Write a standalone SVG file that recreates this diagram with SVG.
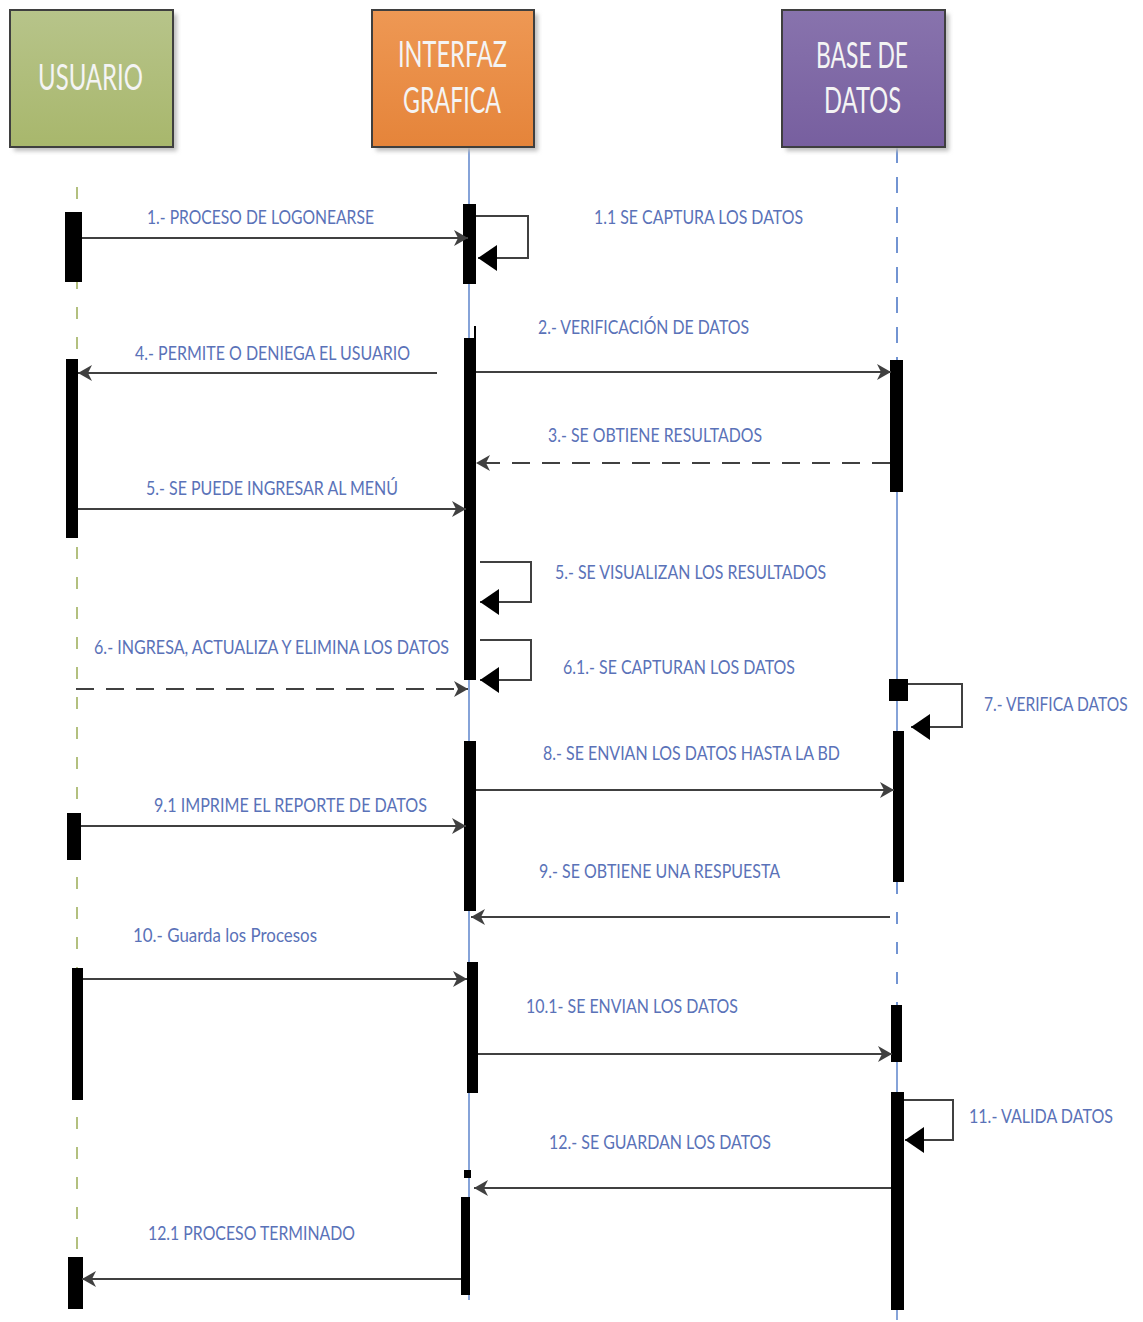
<svg xmlns="http://www.w3.org/2000/svg" width="1143" height="1322" viewBox="0 0 1143 1322">
<style>
.hdr{font-family:Lato,"Open Sans",sans-serif;font-size:36px;fill:#f4f4f4;}
.lbl{font-family:Lato,"Open Sans",sans-serif;font-size:19px;fill:#5a72b8;}
.msg{stroke:#404040;stroke-width:2;fill:none;}
.dash{stroke-dasharray:18 12;}
.self{stroke:#404040;stroke-width:2;fill:none;}
.act{fill:#000;}
.box{stroke:#3f3f3f;stroke-width:2;}
</style>
<defs>
<linearGradient id="gG" x1="0" y1="0" x2="0" y2="1"><stop offset="0" stop-color="#b7c48a"/><stop offset="1" stop-color="#a8b76c"/></linearGradient>
<linearGradient id="gO" x1="0" y1="0" x2="0" y2="1"><stop offset="0" stop-color="#ee9854"/><stop offset="1" stop-color="#e5843a"/></linearGradient>
<linearGradient id="gP" x1="0" y1="0" x2="0" y2="1"><stop offset="0" stop-color="#8873ad"/><stop offset="1" stop-color="#775f9f"/></linearGradient>
<filter id="sh" x="-10%" y="-10%" width="130%" height="130%"><feGaussianBlur stdDeviation="2"/></filter>
<marker id="ah" markerUnits="userSpaceOnUse" markerWidth="15" markerHeight="18" refX="14" refY="9" orient="auto"><path d="M0,1 L14,9 L0,17 L4,9 Z" fill="#404040"/></marker>
<marker id="sa" markerUnits="userSpaceOnUse" markerWidth="20" markerHeight="28" refX="19" refY="13" orient="auto"><path d="M0,0 L19,13 L0,26 Z" fill="#000"/></marker>
</defs>
<rect width="1143" height="1322" fill="#fff"/>

<g id="lifelines">
<line x1="77" y1="187" x2="77" y2="1312" stroke="#b3c07f" stroke-width="2" stroke-dasharray="12 18"/>
<line x1="469" y1="147" x2="469" y2="1300" stroke="#4472c4" stroke-width="1.3"/>
<line x1="897" y1="147" x2="897" y2="360" stroke="#4472c4" stroke-width="1.5" stroke-dasharray="16 14"/>
<line x1="897" y1="360" x2="897" y2="882" stroke="#4472c4" stroke-width="1.3"/>
<line x1="897" y1="882" x2="897" y2="1005" stroke="#4472c4" stroke-width="1.5" stroke-dasharray="12 18"/>
<line x1="897" y1="1005" x2="897" y2="1320" stroke="#4472c4" stroke-width="1.3"/>
</g>

<g id="usuario">
<rect x="14" y="14" width="163" height="137" fill="#bdbdbd" filter="url(#sh)"/>
<rect class="box" x="10" y="10" width="163" height="137" fill="url(#gG)"/>
<text class="hdr" x="38" y="90" textLength="105" lengthAdjust="spacingAndGlyphs">USUARIO</text>
</g>
<g id="interfaz">
<rect x="376" y="14" width="162" height="137" fill="#bdbdbd" filter="url(#sh)"/>
<rect class="box" x="372" y="10" width="162" height="137" fill="url(#gO)"/>
<text class="hdr" x="398" y="67" textLength="109" lengthAdjust="spacingAndGlyphs">INTERFAZ</text>
<text class="hdr" x="403" y="113" textLength="98" lengthAdjust="spacingAndGlyphs">GRAFICA</text>
</g>
<g id="basedatos">
<rect x="786" y="14" width="163" height="137" fill="#bdbdbd" filter="url(#sh)"/>
<rect class="box" x="782" y="10" width="163" height="137" fill="url(#gP)"/>
<text class="hdr" x="816" y="68" textLength="92" lengthAdjust="spacingAndGlyphs">BASE DE</text>
<text class="hdr" x="824" y="113" textLength="77" lengthAdjust="spacingAndGlyphs">DATOS</text>
</g>

<g id="activations">
<rect class="act" x="65" y="212" width="17" height="70"/>
<rect class="act" x="66" y="359" width="12" height="179"/>
<rect class="act" x="67" y="813" width="14" height="47"/>
<rect class="act" x="72" y="968" width="11" height="132"/>
<rect class="act" x="68" y="1257" width="15" height="52"/>
<rect class="act" x="463" y="204" width="13" height="80"/>
<rect class="act" x="474" y="326" width="2" height="14"/>
<rect class="act" x="464" y="338" width="12" height="342"/>
<rect class="act" x="464" y="741" width="12" height="170"/>
<rect class="act" x="467" y="962" width="11" height="131"/>
<rect class="act" x="464" y="1170" width="7" height="8"/>
<rect class="act" x="461" y="1197" width="9" height="98"/>
<rect class="act" x="890" y="360" width="13" height="132"/>
<rect class="act" x="889" y="679" width="19" height="22"/>
<rect class="act" x="893" y="731" width="11" height="151"/>
<rect class="act" x="891" y="1005" width="11" height="57"/>
<rect class="act" x="891" y="1092" width="13" height="218"/>
</g>

<g id="connectors">
<line class="msg" x1="82" y1="238" x2="468" y2="238" marker-end="url(#ah)"/>
<polyline class="self" points="476,216 528,216 528,258 478,258" marker-end="url(#sa)"/>
<line class="msg" x1="476" y1="372" x2="891" y2="372" marker-end="url(#ah)"/>
<line class="msg" x1="437" y1="373" x2="78" y2="373" marker-end="url(#ah)"/>
<line class="msg dash" x1="890" y1="463" x2="476" y2="463" marker-end="url(#ah)"/>
<line class="msg" x1="78" y1="509" x2="466" y2="509" marker-end="url(#ah)"/>
<polyline class="self" points="480,562 531,562 531,602 480,602" marker-end="url(#sa)"/>
<polyline class="self" points="480,640 531,640 531,680 480,680" marker-end="url(#sa)"/>
<line class="msg dash" x1="76" y1="689" x2="468" y2="689" marker-end="url(#ah)"/>
<polyline class="self" points="908,684 962,684 962,727 911,727" marker-end="url(#sa)"/>
<line class="msg" x1="476" y1="790" x2="894" y2="790" marker-end="url(#ah)"/>
<line class="msg" x1="81" y1="826" x2="466" y2="826" marker-end="url(#ah)"/>
<line class="msg" x1="890" y1="917" x2="471" y2="917" marker-end="url(#ah)"/>
<line class="msg" x1="83" y1="979" x2="467" y2="979" marker-end="url(#ah)"/>
<line class="msg" x1="478" y1="1054" x2="892" y2="1054" marker-end="url(#ah)"/>
<polyline class="self" points="904,1100 953,1100 953,1140 905,1140" marker-end="url(#sa)"/>
<line class="msg" x1="891" y1="1188" x2="474" y2="1188" marker-end="url(#ah)"/>
<line class="msg" x1="461" y1="1279" x2="82" y2="1279" marker-end="url(#ah)"/>
</g>

<g id="labels">
<text class="lbl" x="147" y="224" textLength="227" lengthAdjust="spacingAndGlyphs">1.- PROCESO DE LOGONEARSE</text>
<text class="lbl" x="594" y="224" textLength="209" lengthAdjust="spacingAndGlyphs">1.1 SE CAPTURA LOS DATOS</text>
<text class="lbl" x="538" y="334" textLength="211" lengthAdjust="spacingAndGlyphs">2.- VERIFICACIÓN DE DATOS</text>
<text class="lbl" x="135" y="360" textLength="275" lengthAdjust="spacingAndGlyphs">4.- PERMITE O DENIEGA EL USUARIO</text>
<text class="lbl" x="548" y="442" textLength="214" lengthAdjust="spacingAndGlyphs">3.- SE OBTIENE RESULTADOS</text>
<text class="lbl" x="146" y="495" textLength="252" lengthAdjust="spacingAndGlyphs">5.- SE PUEDE INGRESAR AL MENÚ</text>
<text class="lbl" x="555" y="579" textLength="271" lengthAdjust="spacingAndGlyphs">5.- SE VISUALIZAN LOS RESULTADOS</text>
<text class="lbl" x="94" y="654" textLength="355" lengthAdjust="spacingAndGlyphs">6.- INGRESA, ACTUALIZA Y ELIMINA LOS DATOS</text>
<text class="lbl" x="563" y="674" textLength="232" lengthAdjust="spacingAndGlyphs">6.1.- SE CAPTURAN LOS DATOS</text>
<text class="lbl" transform="translate(984,711) scale(0.85,1)" x="0" y="0" textLength="169" lengthAdjust="spacingAndGlyphs">7.- VERIFICA DATOS</text>
<text class="lbl" x="543" y="760" textLength="297" lengthAdjust="spacingAndGlyphs">8.- SE ENVIAN LOS DATOS HASTA LA BD</text>
<text class="lbl" x="154" y="812" textLength="273" lengthAdjust="spacingAndGlyphs">9.1 IMPRIME EL REPORTE DE DATOS</text>
<text class="lbl" x="539" y="878" textLength="241" lengthAdjust="spacingAndGlyphs">9.- SE OBTIENE UNA RESPUESTA</text>
<text class="lbl" x="133" y="942" textLength="184" lengthAdjust="spacingAndGlyphs">10.- Guarda los Procesos</text>
<text class="lbl" x="526" y="1013" textLength="212" lengthAdjust="spacingAndGlyphs">10.1- SE ENVIAN LOS DATOS</text>
<text class="lbl" x="969" y="1123" textLength="144" lengthAdjust="spacingAndGlyphs">11.- VALIDA DATOS</text>
<text class="lbl" x="549" y="1149" textLength="222" lengthAdjust="spacingAndGlyphs">12.- SE GUARDAN LOS DATOS</text>
<text class="lbl" x="148" y="1240" textLength="207" lengthAdjust="spacingAndGlyphs">12.1 PROCESO TERMINADO</text>
</g>
</svg>
